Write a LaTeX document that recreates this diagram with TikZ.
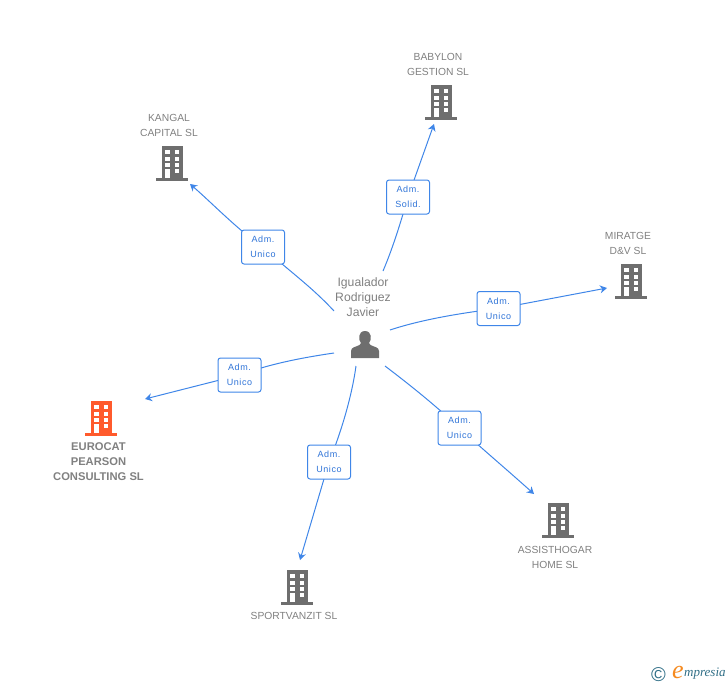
\documentclass[tikz,border=0pt]{standalone}
\usepackage{fontspec}
\setmainfont{Liberation Sans}
\newfontfamily\lblfont[LetterSpace=6]{Liberation Sans}
\newfontfamily\logofont{Liberation Serif}
\usetikzlibrary{arrows.meta}
\definecolor{linkblue}{HTML}{3F86E8}
\definecolor{labelblue}{HTML}{2F74D8}
\definecolor{greytext}{HTML}{808080}
\definecolor{bldgrey}{HTML}{6E6E6E}
\definecolor{bldorange}{HTML}{FF5A2C}
\definecolor{logoteal}{HTML}{2F6E86}
\definecolor{logoorange}{HTML}{F58A1F}
\tikzset{
  x=1pt,y=-1pt,
  link/.style={draw=linkblue,line width=1pt},
  linkarrow/.style={link,-{Stealth[length=7pt,width=8pt]}},
  rolebox/.style={draw=linkblue,line width=1pt,fill=white,rounded corners=2.5pt,minimum width=43pt,minimum height=34pt,inner sep=0pt,align=center,text=labelblue,font=\lblfont\fontsize{9}{15}\selectfont},
  cotext/.style={text=greytext,align=center,inner sep=0pt,font=\fontsize{10.3}{15}\selectfont},
  cobold/.style={text=greytext,align=center,inner sep=0pt,font=\bfseries\fontsize{11.2}{15}\selectfont},
  pertext/.style={text=greytext,align=center,inner sep=0pt,font=\fontsize{12.2}{15}\selectfont},
  building/.pic={
    \fill[pic actions] (-10.5,-17) rectangle (10.5,15);
    \fill[pic actions] (-16,15) rectangle (16,17.5);
    \foreach \yy in {-13,-6.5,0,6}{
      \fill[white] (-7.3,\yy) rectangle (-2.3,{\yy+4});
      \fill[white] (2.7,\yy) rectangle (7.3,{\yy+4});
    }
    \fill[white] (-7.3,6) rectangle (-2.3,15);
  }
}
\begin{document}
\begin{tikzpicture}
\useasboundingbox (0,0) rectangle (728,685);
% buildings
\pic[bldgrey,fill=bldgrey] at (441,102) {building};
\pic[bldgrey,fill=bldgrey] at (172,163) {building};
\pic[bldgrey,fill=bldgrey] at (631,281) {building};
\pic[bldgrey,fill=bldgrey] at (558,520) {building};
\pic[bldgrey,fill=bldgrey] at (297,587) {building};
\pic[bldorange,fill=bldorange] at (101,418) {building};
% labels
\node[cotext] (babylon) at (438,64) {BABYLON\\GESTION SL};
\node[cotext] (kangal) at (169,125) {KANGAL\\CAPITAL SL};
\node[cotext] (miratge) at (628,243) {MIRATGE\\D\&V SL};
\node[cotext] (assist) at (555,557) {ASSISTHOGAR\\HOME SL};
\node[cotext] (sport) at (294,616) {SPORTVANZIT SL};
\node[cobold] (eurocat) at (98.5,462) {EUROCAT\\PEARSON\\CONSULTING SL};
\node[pertext] (person) at (363,297) {Igualador\\Rodriguez\\Javier};
% person icon
\fill[bldgrey] (351,358) -- (351,351) .. controls (351,347) and (356,347) .. (359.5,345) -- (361,343) .. controls (358,340) and (358,331) .. (365,331) .. controls (372,331) and (372,340) .. (369,343) -- (370.5,345) .. controls (374,347) and (379,347) .. (379,351) -- (379,358) -- cycle;
% anchors
\coordinate (sA) at (383,271); \coordinate (eA) at (434,124);
\coordinate (sB) at (334,311); \coordinate (eB) at (190,184);
\coordinate (sC) at (390,330); \coordinate (eC) at (607,288);
\coordinate (sD) at (385,366); \coordinate (eD) at (534,494);
\coordinate (sE) at (356,366); \coordinate (eE) at (300,560);
\coordinate (sF) at (334,353); \coordinate (eF) at (145,399);
% boxes positions
\coordinate (bA) at (408,197);
\coordinate (bB) at (263,247);
\coordinate (bC) at (498.5,308.5);
\coordinate (bD) at (459.5,428);
\coordinate (bE) at (329,462);
\coordinate (bF) at (239.5,375);
% connectors
\draw[link] (sA) .. controls (392,250) and (400,225) .. (bA);
\draw[linkarrow] (bA) -- (eA);
\draw[link] (sB) .. controls (310,285) and (285,268) .. (bB);
\draw[linkarrow] (bB) .. controls (240,232) and (212,203) .. (eB);
\draw[link] (sC) .. controls (420,320) and (460,313) .. (bC);
\draw[linkarrow] (bC) -- (eC);
\draw[link] (sD) .. controls (410,385) and (435,405) .. (bD);
\draw[linkarrow] (bD) .. controls (480,447) and (505,468) .. (eD);
\draw[link] (sE) .. controls (352,395) and (342,430) .. (bE);
\draw[linkarrow] (bE) -- (eE);
\draw[link] (sF) .. controls (300,358) and (270,364) .. (bF);
\draw[linkarrow] (bF) -- (eF);
% role boxes
\node[rolebox] (rA) at (bA) {Adm.\\Solid.};
\node[rolebox] (rB) at (bB) {Adm.\\Unico};
\node[rolebox] (rC) at (bC) {Adm.\\Unico};
\node[rolebox] (rD) at (bD) {Adm.\\Unico};
\node[rolebox] (rE) at (bE) {Adm.\\Unico};
\node[rolebox] (rF) at (bF) {Adm.\\Unico};
% logo
\node[text=logoteal,inner sep=0pt,font=\fontsize{20}{20}\selectfont] (copy) at (658.5,674.5) {\char"00A9};
\node[text=logoorange,inner sep=0pt,font=\logofont\itshape\fontsize{26}{26}\selectfont] (logoe) at (678,672.5) {e};
\node[text=logoteal,anchor=west,inner sep=0pt,font=\logofont\itshape\fontsize{13}{14}\selectfont] (logot) at (684,674) {mpresia};
\end{tikzpicture}
\end{document}
